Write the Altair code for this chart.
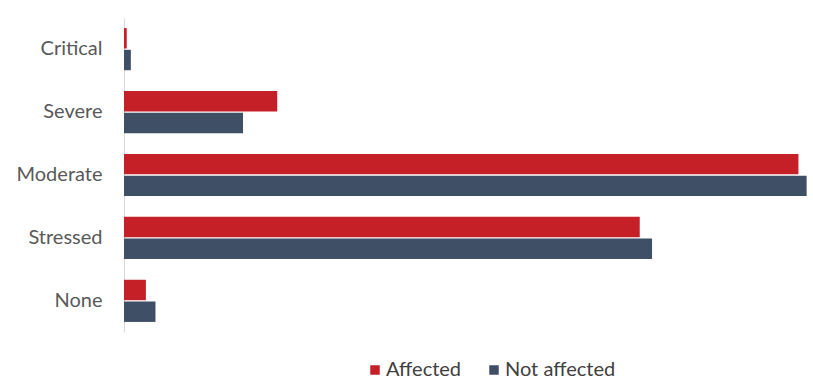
import altair as alt
import pandas as pd

categories = ["Critical", "Severe", "Moderate", "Stressed", "None"]
groups = ["Affected", "Not affected"]
affected = [0.2, 11.2, 49.3, 37.7, 1.6]
not_affected = [0.5, 8.7, 49.9, 38.6, 2.3]

rows = []
for c, a, n in zip(categories, affected, not_affected):
    rows.append({"category": c, "group": groups[0], "value": a})
    rows.append({"category": c, "group": groups[1], "value": n})
df = pd.DataFrame(rows)

colors = ["#C51F28", "#3E4F66"]

bars = alt.Chart(df).mark_bar().encode(
    y=alt.Y("category:N", sort=categories, title=None,
            scale=alt.Scale(paddingInner=0.33, paddingOuter=0.16),
            axis=alt.Axis(domain=True, domainColor="#d9d9d9", ticks=False,
                          labelFontSize=20, labelFont="Lato", labelColor="#595959",
                          labelPadding=22, grid=False)),
    yOffset=alt.YOffset("group:N", sort=groups, scale=alt.Scale(paddingInner=0.06)),
    x=alt.X("value:Q", title=None, scale=alt.Scale(domain=[0, 50], nice=False),
            axis=None),
    color=alt.Color("group:N", sort=groups,
                    scale=alt.Scale(domain=groups, range=colors),
                    legend=alt.Legend(title=None, orient="none", legendX=241, legendY=342,
                                      direction="horizontal", symbolType="square",
                                      symbolSize=90, labelFontSize=20, labelFont="Lato",
                                      labelColor="#404040", labelOffset=1,
                                      columnPadding=22, symbolStrokeWidth=0)),
)

chart = bars.properties(
    width=684, height=314,
    autosize=alt.AutoSizeParams(type="none"),
    padding={"left": 124, "top": 18, "right": 5, "bottom": 55},
).configure(background="white").configure_view(stroke=None, strokeWidth=0)

chart.save("out.html", embed_options={"renderer": "svg", "actions": False})
